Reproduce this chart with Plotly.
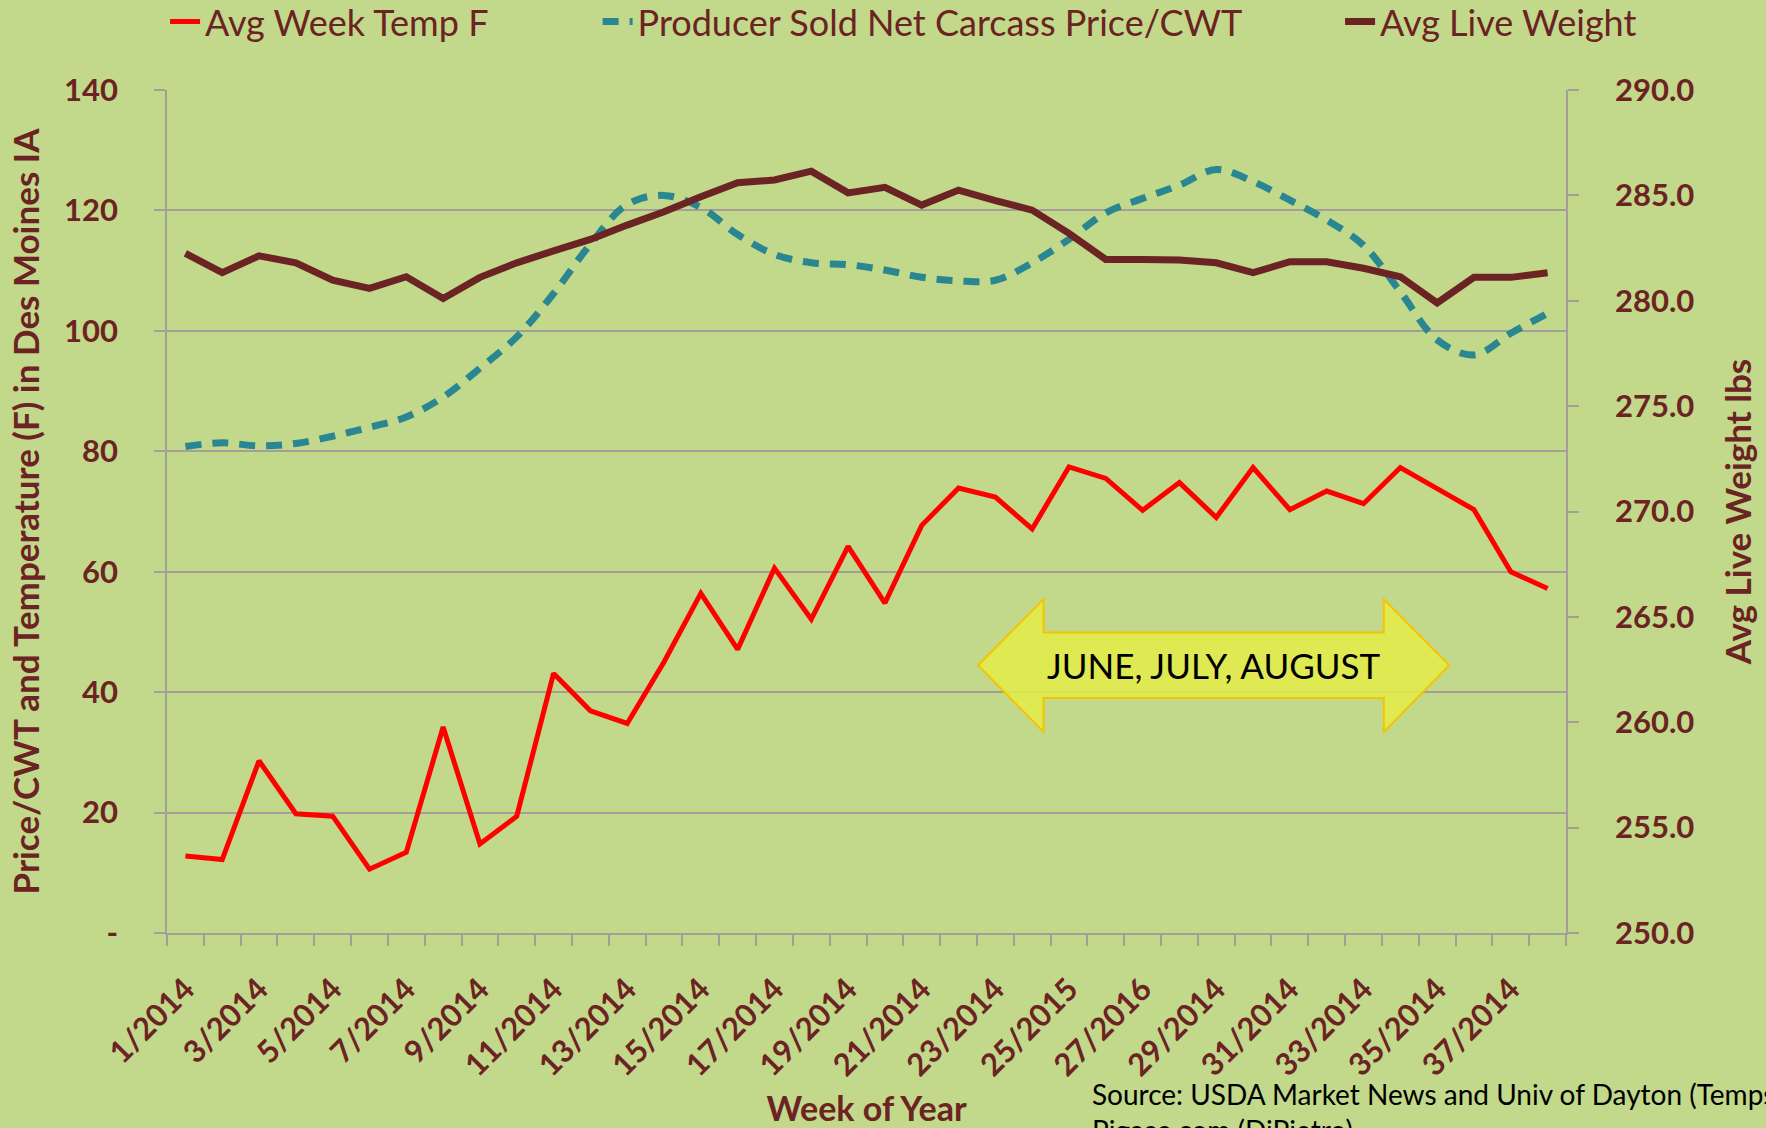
import plotly.graph_objects as go

# ---------------- data ----------------
weeks = ["1/2014", "2/2014", "3/2014", "4/2014", "5/2014", "6/2014", "7/2014", "8/2014",
         "9/2014", "10/2014", "11/2014", "12/2014", "13/2014", "14/2014", "15/2014",
         "16/2014", "17/2014", "18/2014", "19/2014", "20/2014", "21/2014", "22/2014",
         "23/2014", "24/2014", "25/2015", "26/2014", "27/2016", "28/2014", "29/2014",
         "30/2014", "31/2014", "32/2014", "33/2014", "34/2014", "35/2014", "36/2014",
         "37/2014", "38/2014"]

avg_temp_f = [12.8, 12.2, 28.6, 19.8, 19.4, 10.6, 13.4, 34.2, 14.8, 19.4,
              43.1, 36.9, 34.8, 45.0, 56.4, 47.1, 60.6, 52.1, 64.2, 54.8,
              67.7, 73.9, 72.4, 67.1, 77.4, 75.5, 70.2, 74.8, 69.0, 77.3,
              70.3, 73.4, 71.3, 77.3, 73.8, 70.3, 60.0, 57.2]

carcass_price_cwt = [80.8, 81.4, 80.9, 81.3, 82.5, 84.0, 85.7, 89.0, 93.8, 99.0,
                     106.2, 114.4, 121.0, 122.5, 120.5, 116.0, 112.7, 111.3, 111.0, 110.1,
                     108.9, 108.3, 108.4, 111.3, 115.2, 119.6, 122.0, 124.2, 126.8, 124.8,
                     121.7, 118.4, 114.2, 106.5, 98.5, 96.0, 99.6, 102.9]

avg_live_weight = [282.25, 281.33, 282.13, 281.80, 280.98, 280.59, 281.14, 280.11, 281.11, 281.80,
                   282.37, 282.91, 283.59, 284.22, 284.94, 285.60, 285.73, 286.15, 285.12, 285.38,
                   284.54, 285.25, 284.75, 284.30, 283.20, 281.96, 281.96, 281.93, 281.80, 281.33,
                   281.85, 281.85, 281.54, 281.14, 279.90, 281.11, 281.11, 281.33]

left_ticks = [0, 20, 40, 60, 80, 100, 120, 140]
left_tick_text = ["-", "20", "40", "60", "80", "100", "120", "140"]

series_names = ["Avg Week Temp F", "Producer Sold Net Carcass Price/CWT", "Avg Live Weight"]

# ---------------- styling ----------------
MAROON = "#6b2323"
BG = "#c2d88a"
GRID = "#a59d97"
FONT = "Lato"

pos = list(range(1, len(weeks) + 1))

fig = go.Figure()

fig.add_trace(go.Scatter(
    x=pos, y=avg_temp_f, name=series_names[0], mode="lines",
    line=dict(color="#ff0000", width=5), legend="legend", yaxis="y"))

fig.add_trace(go.Scatter(
    x=pos, y=carcass_price_cwt, name=series_names[1], mode="lines",
    line=dict(color="#2a8690", width=7, dash="16px,11px", shape="spline", smoothing=1.0),
    legend="legend2", yaxis="y"))

fig.add_trace(go.Scatter(
    x=pos, y=avg_live_weight, name=series_names[2], mode="lines",
    line=dict(color=MAROON, width=7), legend="legend3", yaxis="y2"))

# double arrow (decoration) in data coordinates
arrow_path = ("M 22.53,44.46 L 24.31,55.43 L 24.31,49.9 L 33.55,49.9 L 33.55,55.43 "
              "L 35.33,44.46 L 33.55,33.38 L 33.55,39.03 L 24.31,39.03 L 24.31,33.38 Z")
fig.add_shape(type="path", path=arrow_path, xref="x", yref="y",
              fillcolor="rgba(228,236,72,0.85)", line=dict(color="#f5c400", width=2),
              layer="above")
fig.add_annotation(x=28.93, y=44.46, xref="x", yref="y", text="JUNE, JULY, AUGUST",
                   showarrow=False, font=dict(family=FONT, size=35, color="#000000"))

fig.add_annotation(x=0.660, y=-0.168, xref="paper", yref="paper", xanchor="left", yanchor="top",
                   align="left",
                   text="Source: USDA Market News and Univ of Dayton (Temps)<br>Pigaaa.com (DiPietro)",
                   showarrow=False, font=dict(family=FONT, size=28, color="#000000"))

legend_common = dict(orientation="h", yanchor="middle", xanchor="left", y=1.081,
                     bgcolor="rgba(0,0,0,0)", font=dict(family=FONT, size=36, color=MAROON))

fig.update_layout(
    width=1766, height=1128,
    paper_bgcolor=BG, plot_bgcolor=BG,
    margin=dict(l=167, r=200, t=90, b=195, autoexpand=False),
    font=dict(family=FONT, color=MAROON),
    showlegend=True,
    legend=dict(legend_common, x=-0.0014),
    legend2=dict(legend_common, x=0.3078),
    legend3=dict(legend_common, x=0.8385),
    xaxis=dict(
        range=[0.5, len(weeks) + 0.5],
        tickmode="array", tickvals=pos[::2], ticktext=weeks[::2],
        tickangle=-45, ticks="", showgrid=False, zeroline=False,
        showline=True, linecolor=GRID, linewidth=1.5,
        ticklabelstandoff=24,
        tickfont=dict(family=FONT, size=31, color=MAROON, weight="bold"),
        minor=dict(tickmode="linear", tick0=0.5, dtick=1, ticks="outside", ticklen=11,
                   tickcolor=GRID, tickwidth=1.5, showgrid=False),
        title=dict(text="Week of Year", standoff=16,
                   font=dict(family=FONT, size=34, color=MAROON, weight="bold")),
    ),
    yaxis=dict(
        range=[0, 140], tickmode="array", tickvals=left_ticks, ticktext=left_tick_text,
        showgrid=True, gridcolor=GRID, gridwidth=1.5, zeroline=False,
        showline=True, linecolor=GRID, linewidth=1.5,
        ticks="outside", ticklen=11, tickcolor=GRID, tickwidth=1.5,
        ticklabelstandoff=30,
        tickfont=dict(family=FONT, size=31, color=MAROON, weight="bold"),
        title=dict(text="Price/CWT and Temperature (F) in Des Moines IA", standoff=14,
                   font=dict(family=FONT, size=35, color=MAROON, weight="bold")),
    ),
    yaxis2=dict(
        range=[250, 290], dtick=5, tick0=250, tickformat=".1f",
        overlaying="y", side="right", showgrid=False, zeroline=False,
        showline=True, linecolor=GRID, linewidth=1.5,
        ticks="outside", ticklen=11, tickcolor=GRID, tickwidth=1.5,
        ticklabelstandoff=30,
        tickfont=dict(family=FONT, size=31, color=MAROON, weight="bold"),
        title=dict(text="Avg Live Weight lbs", standoff=33,
                   font=dict(family=FONT, size=35, color=MAROON, weight="bold")),
    ),
)

fig.write_html("out.html", config={"displayModeBar": False},
               post_script="document.body.style.margin='0';")
